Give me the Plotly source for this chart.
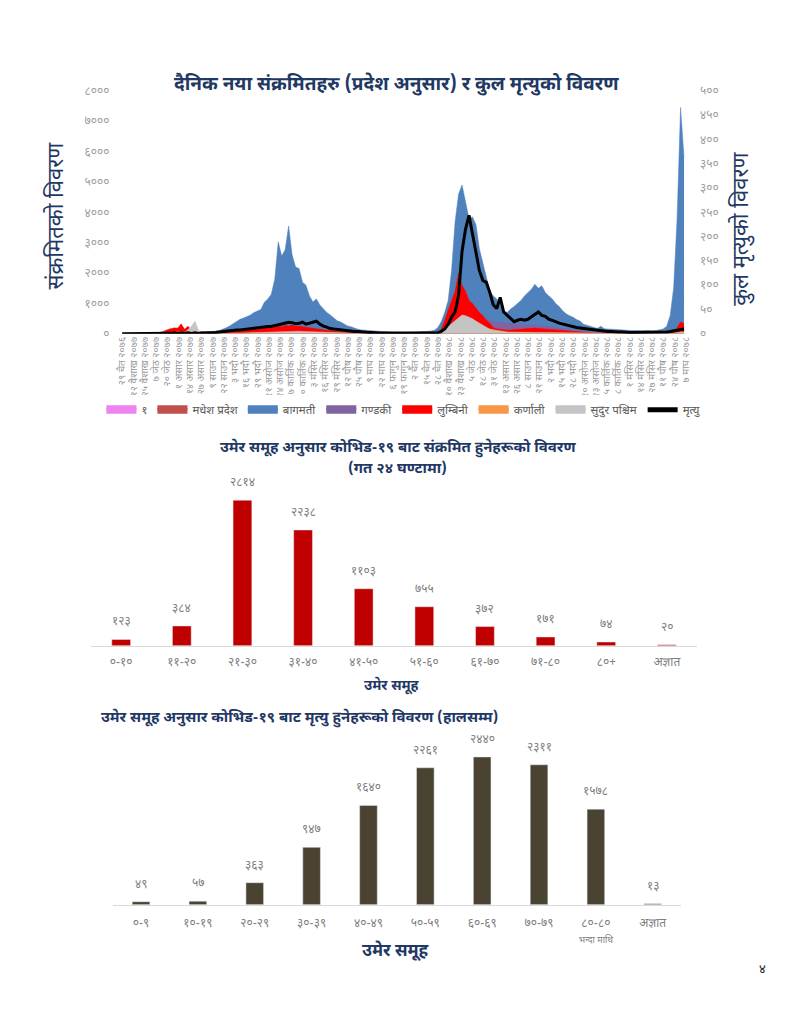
import plotly.graph_objects as go

DEV = str.maketrans("0123456789", "०१२३४५६७८९")


def dev(n):
    return str(n).translate(DEV)


FONT = "Noto Sans Devanagari, Noto Sans, Lohit Devanagari, FreeSans, sans-serif"
NAVY = "#1F3864"

# ---------------- top chart data (sampled every 4 days from 29 Chaitra 2076) ----------------
sample_step_days = 4
day_index = list(range(0, 649, sample_step_days))  # 163 samples

date_labels = [
    "२९ चैत २०७६", "१२ वैशाख २०७७", "२५ वैशाख २०७७", "७ जेठ २०७७", "२० जेठ २०७७",
    "१ असार २०७७", "१४ असार २०७७", "२७ असार २०७७", "९ साउन २०७७", "२२ साउन २०७७",
    "३ भदौ २०७७", "१६ भदौ २०७७", "२९ भदौ २०७७", "११ असोज २०७७", "२४ असोज २०७७",
    "७ कार्तिक २०७७", "२० कार्तिक २०७७", "३ मंसिर २०७७", "१६ मंसिर २०७७", "२९ मंसिर २०७७",
    "१२ पौष २०७७", "२५ पौष २०७७", "९ माघ २०७७", "२२ माघ २०७७", "६ फागुन २०७७",
    "१९ फागुन २०७७", "२ चैत २०७७", "१५ चैत २०७७", "२८ चैत २०७७", "१० वैशाख २०७८",
    "२३ वैशाख २०७८", "५ जेठ २०७८", "१८ जेठ २०७८", "३१ जेठ २०७८", "१३ असार २०७८",
    "२६ असार २०७८", "८ साउन २०७८", "२१ साउन २०७८", "२ भदौ २०७८", "१५ भदौ २०७८",
    "२८ भदौ २०७८", "१० असोज २०७८", "२३ असोज २०७८", "५ कार्तिक २०७८", "१८ कार्तिक २०७८",
    "१ मंसिर २०७८", "१४ मंसिर २०७८", "२७ मंसिर २०७८", "११ पौष २०७८", "२४ पौष २०७८",
    "७ माघ २०७८",
]
label_interval_days = 13

province1 = [
    0, 0, 1, 3, 2, 2, 1, 1, 2, 3,
    5, 8, 15, 20, 25, 20, 30, 25, 20, 15,
    12, 10, 8, 8, 10, 12, 15, 20, 25, 30,
    35, 40, 50, 60, 70, 80, 90, 100, 110, 120,
    130, 140, 150, 160, 160, 170, 160, 170, 160, 150,
    140, 130, 120, 110, 100, 90, 80, 70, 60, 50,
    45, 40, 35, 30, 28, 25, 22, 20, 18, 16,
    15, 14, 12, 12, 10, 10, 10, 10, 10, 10,
    10, 10, 10, 10, 10, 10, 12, 14, 16, 20,
    30, 50, 100, 200, 300, 400, 500, 600, 650, 650,
    600, 550, 500, 450, 400, 350, 300, 250, 200, 180,
    160, 150, 150, 160, 170, 180, 190, 200, 200, 200,
    190, 180, 170, 160, 150, 130, 120, 110, 100, 90,
    80, 70, 60, 55, 50, 45, 40, 35, 30, 30,
    28, 26, 25, 24, 22, 20, 20, 18, 18, 18,
    18, 18, 18, 20, 22, 25, 30, 40, 80, 150,
    300, 600, 500,
]
madhesh = [
    0, 0, 1, 2, 3, 5, 8, 10, 12, 15,
    20, 50, 100, 150, 180, 150, 200, 120, 130, 100,
    80, 70, 60, 50, 40, 40, 40, 50, 60, 80,
    90, 100, 110, 110, 120, 120, 130, 130, 140, 140,
    150, 150, 160, 160, 170, 170, 180, 170, 160, 150,
    150, 140, 130, 120, 110, 100, 90, 80, 70, 60,
    50, 45, 40, 35, 30, 28, 25, 22, 20, 18,
    16, 15, 14, 12, 12, 10, 10, 10, 10, 10,
    10, 10, 10, 10, 10, 10, 12, 14, 16, 20,
    30, 50, 100, 200, 300, 400, 500, 550, 600, 600,
    550, 500, 450, 400, 350, 300, 250, 200, 170, 150,
    140, 130, 130, 130, 140, 140, 150, 150, 150, 150,
    150, 140, 130, 120, 110, 100, 90, 80, 70, 60,
    55, 50, 45, 40, 35, 30, 28, 25, 22, 20,
    20, 18, 18, 16, 16, 15, 15, 14, 14, 14,
    14, 14, 14, 15, 16, 18, 20, 25, 40, 80,
    150, 250, 220,
]
bagmati = [
    0, 0, 1, 0, 2, 1, 3, 2, 4, 3,
    6, 8, 10, 12, 15, 18, 20, 25, 22, 30,
    35, 40, 45, 50, 55, 60, 70, 90, 110, 150,
    200, 260, 330, 420, 480, 520, 560, 620, 700, 760,
    800, 1040, 1150, 1300, 1800, 3030, 2560, 2770, 3550, 2600,
    2200, 2150, 1700, 1600, 1250, 1050, 1150, 950, 820, 700,
    620, 520, 430, 390, 330, 260, 230, 180, 150, 130,
    120, 100, 90, 80, 70, 60, 50, 45, 40, 40,
    35, 35, 40, 35, 40, 45, 50, 60, 70, 90,
    120, 200, 400, 700, 1100, 2120, 3700, 4600, 4900, 4300,
    3800, 3850, 3600, 2800, 2300, 1800, 1400, 1250, 1150, 1000,
    760, 700, 820, 900, 1000, 1100, 1250, 1350, 1470, 1630,
    1500, 1580, 1360, 1250, 1150, 1000, 900, 760, 660, 600,
    550, 470, 420, 320, 280, 240, 220, 180, 250, 170,
    160, 150, 140, 130, 130, 120, 120, 110, 110, 100,
    100, 110, 100, 100, 110, 130, 160, 250, 600, 1500,
    3800, 7450, 5800,
]
gandaki = [
    0, 0, 0, 0, 0, 0, 1, 0, 1, 2,
    3, 5, 8, 10, 12, 10, 15, 12, 10, 8,
    8, 6, 5, 6, 8, 10, 12, 15, 20, 25,
    30, 40, 50, 60, 70, 80, 90, 100, 110, 120,
    130, 140, 150, 160, 160, 170, 160, 170, 160, 150,
    150, 140, 130, 120, 110, 100, 90, 80, 70, 60,
    55, 50, 45, 40, 35, 30, 28, 25, 22, 20,
    18, 16, 15, 14, 12, 12, 10, 10, 10, 10,
    10, 10, 10, 10, 10, 10, 12, 14, 16, 20,
    25, 40, 80, 150, 250, 350, 450, 550, 600, 600,
    580, 550, 520, 500, 480, 450, 420, 400, 380, 380,
    370, 350, 330, 320, 300, 300, 300, 290, 290, 280,
    280, 270, 260, 250, 240, 220, 200, 180, 160, 140,
    120, 100, 90, 80, 70, 60, 55, 50, 45, 40,
    40, 35, 35, 30, 30, 28, 28, 26, 25, 25,
    25, 25, 24, 25, 26, 28, 30, 40, 60, 100,
    150, 220, 200,
]
lumbini = [
    0, 0, 0, 1, 0, 2, 1, 3, 2, 5,
    8, 10, 60, 120, 150, 200, 180, 330, 150, 250,
    120, 100, 80, 60, 50, 40, 40, 50, 60, 70,
    80, 90, 100, 110, 120, 130, 140, 150, 160, 170,
    180, 200, 200, 220, 230, 250, 230, 280, 260, 300,
    250, 260, 230, 220, 200, 180, 170, 150, 130, 110,
    100, 90, 80, 70, 60, 55, 50, 45, 40, 35,
    30, 25, 20, 18, 16, 15, 15, 14, 14, 15,
    15, 14, 15, 16, 15, 16, 18, 20, 22, 25,
    30, 40, 150, 450, 800, 1100, 1400, 2000, 1600, 1400,
    1100, 1000, 850, 700, 600, 450, 350, 200, 170, 150,
    130, 120, 130, 140, 150, 160, 170, 180, 180, 190,
    180, 170, 160, 150, 140, 120, 110, 100, 90, 80,
    70, 60, 50, 45, 40, 35, 30, 30, 28, 25,
    25, 22, 20, 20, 18, 18, 16, 16, 15, 15,
    15, 14, 14, 15, 16, 18, 20, 30, 40, 80,
    200, 390, 350,
]
karnali = [
    0, 0, 0, 0, 0, 0, 0, 0, 0, 1,
    2, 3, 20, 40, 50, 60, 60, 80, 50, 60,
    40, 30, 20, 15, 12, 10, 10, 10, 12, 15,
    18, 20, 22, 25, 28, 30, 30, 35, 35, 40,
    40, 45, 50, 50, 55, 60, 55, 60, 55, 60,
    55, 50, 45, 40, 35, 30, 28, 25, 22, 20,
    18, 16, 14, 12, 10, 10, 9, 8, 7, 6,
    5, 5, 4, 4, 4, 3, 3, 3, 3, 3,
    3, 3, 3, 3, 3, 3, 4, 5, 6, 8,
    10, 15, 40, 100, 180, 250, 300, 350, 350, 330,
    300, 280, 250, 220, 200, 180, 150, 120, 100, 80,
    70, 60, 60, 55, 55, 50, 50, 50, 48, 45,
    45, 42, 40, 38, 35, 30, 28, 25, 22, 20,
    18, 16, 14, 12, 10, 10, 9, 8, 8, 7,
    7, 6, 6, 6, 5, 5, 5, 5, 5, 5,
    5, 5, 5, 5, 5, 6, 6, 8, 10, 20,
    40, 70, 60,
]
sudurpaschim = [
    0, 0, 0, 0, 0, 0, 0, 0, 0, 0,
    0, 1, 2, 5, 10, 8, 15, 20, 40, 150,
    250, 420, 100, 50, 30, 20, 15, 12, 10, 10,
    10, 12, 15, 18, 20, 25, 30, 35, 40, 45,
    50, 55, 60, 65, 70, 75, 80, 85, 90, 95,
    90, 85, 80, 75, 70, 60, 55, 50, 45, 40,
    35, 30, 28, 25, 22, 20, 18, 16, 14, 12,
    10, 10, 9, 8, 8, 7, 6, 6, 5, 5,
    5, 5, 5, 5, 5, 5, 5, 6, 8, 10,
    15, 30, 60, 150, 250, 350, 450, 550, 620, 600,
    560, 500, 420, 350, 280, 200, 150, 110, 90, 70,
    60, 50, 45, 40, 40, 38, 36, 35, 35, 34,
    33, 32, 30, 28, 26, 24, 22, 20, 18, 16,
    15, 14, 13, 12, 11, 10, 10, 9, 9, 8,
    8, 8, 7, 7, 7, 6, 6, 6, 6, 6,
    6, 6, 6, 6, 7, 8, 10, 12, 15, 25,
    40, 60, 50,
]
deaths = [
    0, 0, 0, 0, 0, 0, 0, 0, 0, 0,
    1, 0, 1, 1, 1, 2, 1, 2, 1, 2,
    1, 2, 1, 2, 2, 2, 3, 3, 4, 5,
    5, 6, 7, 8, 8, 9, 10, 11, 12, 12,
    13, 14, 15, 15, 17, 18, 20, 22, 24, 23,
    21, 22, 24, 20, 22, 24, 26, 20, 16, 14,
    11, 10, 9, 8, 7, 7, 6, 5, 5, 4,
    4, 3, 3, 2, 2, 2, 2, 1, 1, 1,
    1, 1, 1, 1, 1, 1, 1, 1, 1, 1,
    1, 2, 5, 10, 20, 35, 45, 80, 170, 215,
    244, 207, 165, 130, 110, 106, 85, 60, 52, 75,
    45, 38, 30, 25, 28, 30, 28, 30, 35, 40,
    45, 38, 36, 30, 28, 25, 22, 20, 18, 16,
    15, 13, 12, 11, 10, 9, 8, 7, 6, 6,
    5, 5, 4, 4, 4, 3, 3, 3, 3, 3,
    3, 3, 3, 3, 3, 3, 3, 4, 5, 6,
    7, 9, 10,
]

province_names = ["१", "मधेश प्रदेश", "बागमती", "गण्डकी", "लुम्बिनी", "कर्णाली", "सुदुर पश्चिम"]
province_series = [province1, madhesh, bagmati, gandaki, lumbini, karnali, sudurpaschim]
province_colors = ["#EE82EE", "#C0504D", "#4F81BD", "#8064A2", "#FF0000", "#F79646", "#C4C4C4"]
death_name = "मृत्यु"

cases_ticks = [0, 1000, 2000, 3000, 4000, 5000, 6000, 7000, 8000]
death_ticks = [0, 50, 100, 150, 200, 250, 300, 350, 400, 450, 500]

# ---------------- bar chart data ----------------
age_groups_24h = ["०-१०", "११-२०", "२१-३०", "३१-४०", "४१-५०", "५१-६०", "६१-७०", "७१-८०", "८०+", "अज्ञात"]
cases_24h = [123, 384, 2814, 2238, 1103, 755, 372, 171, 74, 20]

age_groups_deaths = ["०-९", "१०-१९", "२०-२९", "३०-३९", "४०-४९", "५०-५९", "६०-६९", "७०-७९",
                     "८०-८०<br><span style='font-size:9px'>भन्दा माथि</span>", "अज्ञात"]
deaths_by_age = [49, 57, 363, 947, 1640, 2261, 2440, 2311, 1578, 13]

# page body has an 8px default margin: the figure occupies window pixels 8..783 x 8..1016
OFF = 8
W, H = 791 - 2 * OFF, 1024 - 2 * OFF


def fx(px):
    return (px - OFF) / W


def fy(py):
    return 1 - (py - OFF) / H


fig = go.Figure()

for name, ys, col in zip(province_names, province_series, province_colors):
    fig.add_trace(go.Scatter(
        x=day_index, y=ys, name=name, mode="lines",
        line=dict(color=col, width=0.5), fill="tozeroy", fillcolor=col,
        xaxis="x", yaxis="y",
    ))

fig.add_trace(go.Scatter(
    x=day_index, y=deaths, name=death_name, mode="lines",
    line=dict(color="black", width=3), xaxis="x", yaxis="y2",
))

fig.add_trace(go.Bar(
    x=age_groups_24h, y=cases_24h, marker_color="#C00000",
    xaxis="x3", yaxis="y3", showlegend=False,
))
fig.add_trace(go.Bar(
    x=age_groups_deaths, y=deaths_by_age, marker_color="#4A4331",
    xaxis="x4", yaxis="y4", showlegend=False,
))

annotations = []
for cat, v in zip(age_groups_24h, cases_24h):
    annotations.append(dict(x=cat, y=v, xref="x3", yref="y3", text=dev(v), showarrow=False,
                            yanchor="bottom", yshift=7, font=dict(size=12, color="#7F7F7F", family=FONT)))
for cat, v in zip(age_groups_deaths, deaths_by_age):
    annotations.append(dict(x=cat, y=v, xref="x4", yref="y4", text=dev(v), showarrow=False,
                            yanchor="bottom", yshift=7, font=dict(size=12, color="#7F7F7F", family=FONT)))


def txt(text, x, y, size, color=NAVY, angle=0, xanchor="center", bold=True):
    return dict(text=(f"<b>{text}</b>" if bold else text), x=fx(x), y=fy(y), xref="paper", yref="paper",
                showarrow=False, textangle=angle, xanchor=xanchor, yanchor="middle",
                font=dict(size=size, color=color, family=FONT))


annotations += [
    txt("दैनिक नया संक्रमितहरु (प्रदेश अनुसार) र कुल मृत्युको विवरण", 397, 79, 19),
    txt("संक्रमितको विवरण", 55, 212, 22, angle=-90, bold=False),
    txt("कुल मृत्युको विवरण", 745, 225, 22, angle=-90, bold=False),
    txt("उमेर समूह अनुसार कोभिड-१९ बाट संक्रमित हुनेहरूको विवरण", 398, 448, 15),
    txt("(गत २४ घण्टामा)", 398, 470, 15),
    txt("उमेर समूह", 392, 690, 14),
    txt("उमेर समूह अनुसार कोभिड-१९ बाट मृत्यु हुनेहरूको विवरण (हालसम्म)", 97, 722, 15, xanchor="left"),
    txt("उमेर समूह", 395, 960, 17),
    txt("४", 765, 978, 13, color="#222222", bold=False),
]

tick_font = dict(size=12, color="#A0A0A0", family=FONT)

fig.update_layout(
    width=W, height=H,
    margin=dict(l=0, r=0, t=0, b=0),
    paper_bgcolor="white", plot_bgcolor="white",
    font=dict(family=FONT),
    showlegend=True,
    legend=dict(orientation="h", x=fx(404), xanchor="center", y=fy(409), yanchor="middle",
                font=dict(size=11.5, color="#595959", family=FONT), itemsizing="constant"),
    annotations=annotations,
    xaxis=dict(domain=[fx(117.4), fx(692.4)], range=[-3, 655], anchor="y",
               tickvals=[i * label_interval_days for i in range(len(date_labels))],
               ticktext=date_labels, tickangle=-90,
               tickfont=dict(size=10, color="#9A9A9A", family=FONT),
               showgrid=False, zeroline=False, showline=False, ticks=""),
    yaxis=dict(domain=[fy(332), fy(85)], range=[0, 8000], anchor="x",
               tickvals=cases_ticks, ticktext=[dev(t) for t in cases_ticks],
               tickfont=tick_font, showgrid=False, zeroline=False, ticks="",
               ticklabelstandoff=9),
    yaxis2=dict(overlaying="y", side="right", range=[0, 500], anchor="x",
                tickvals=death_ticks, ticktext=[dev(t) for t in death_ticks],
                tickfont=tick_font, showgrid=False, zeroline=False, ticks="",
                ticklabelstandoff=9),
    xaxis3=dict(domain=[fx(88.5), fx(699.5)], anchor="y3", type="category",
                showline=True, linecolor="#D9D9D9", linewidth=1, ticks="",
                tickfont=dict(size=12, color="#7F7F7F", family=FONT), ticklabelstandoff=5,
                showgrid=False, zeroline=False),
    yaxis3=dict(domain=[fy(649), fy(492)], range=[0, 2985], anchor="x3", visible=False),
    xaxis4=dict(domain=[fx(110.4), fx(683.4)], anchor="y4", type="category",
                showline=True, linecolor="#D9D9D9", linewidth=1, ticks="",
                tickfont=dict(size=12, color="#7F7F7F", family=FONT), ticklabelstandoff=7,
                showgrid=False, zeroline=False),
    yaxis4=dict(domain=[fy(912), fy(749)], range=[0, 2650], anchor="x4", visible=False),
    bargap=0.69,
)

fig.write_html("out.html")
